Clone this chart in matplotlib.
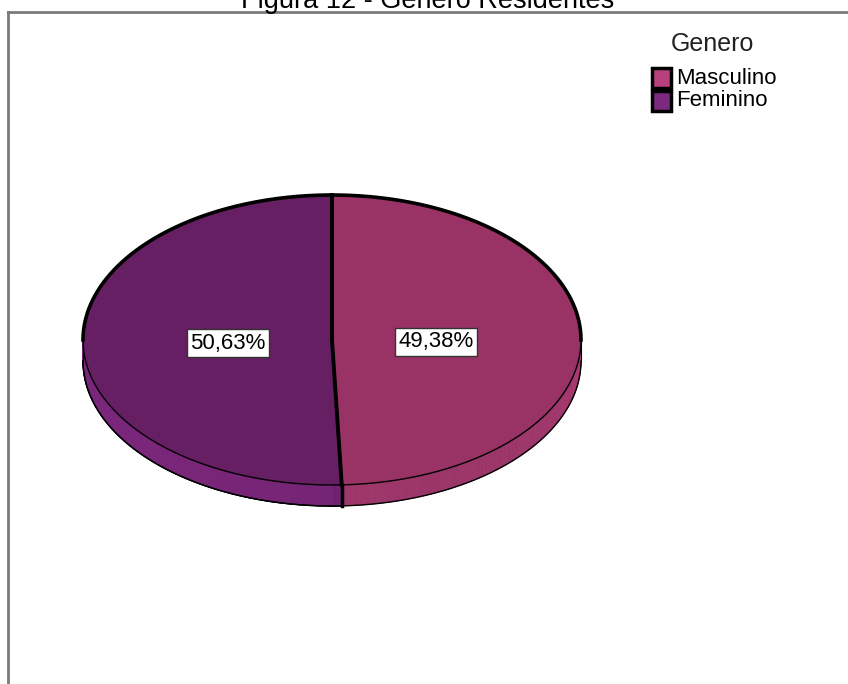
import numpy as np
import matplotlib
matplotlib.use("Agg")
import matplotlib.pyplot as plt
from matplotlib.patches import Polygon, Rectangle
from matplotlib.lines import Line2D
from matplotlib.colors import to_rgb

plt.rcParams['font.family'] = ['Liberation Sans Narrow', 'Liberation Sans', 'DejaVu Sans']

title = "Figura 12 - Genero Residentes"
legend_title = "Genero"
categories = ["Masculino", "Feminino"]
percentages = [49.38, 50.63]
labels = ["49,38%", "50,63%"]

top_colors = ["#993366", "#661f62"]
side_colors = ["#b03c76", "#7a267a"]
swatch_colors = ["#b8407f", "#7b2a80"]

W, H = 848, 684
fig = plt.figure(figsize=(W / 100, H / 100), dpi=100)
ax = fig.add_axes([0, 0, 1, 1])
ax.set_xlim(0, W)
ax.set_ylim(H, 0)
ax.axis("off")

# outer frame (top and left borders)
ax.add_line(Line2D([8, W], [12, 12], color="#7a7a7a", lw=2))
ax.add_line(Line2D([8, 8], [12, H], color="#7a7a7a", lw=2))
ax.text(428, 8, title, ha="center", va="baseline", fontsize=19.5, color="black")

# pie geometry
cx, cy = 332, 340
a, b = 249, 145
depth = 21

def pt(theta_deg, dy=0.0):
    t = np.radians(theta_deg)
    return cx + a * np.cos(t), cy - b * np.sin(t) + dy

# slice angles: start at the top, run clockwise
total = sum(percentages)
start = 90.0
spans = []
for p in percentages:
    sweep = p / total * 360.0
    spans.append((start - sweep, start))
    start -= sweep

# side wall (only the front half, angles -180..0, is visible)
for (t0, t1), col in zip(spans, side_colors):
    segs = []
    vis_lo, vis_hi = max(t0, -180), min(t1, 0)
    if vis_hi > vis_lo:
        segs.append((vis_lo, vis_hi))
    if t0 < -180:
        lo2, hi2 = max(t0 + 360, 180), min(t1 + 360, 360)
        if hi2 > lo2:
            segs.append((lo2 - 360, hi2 - 360))
    base = np.array(to_rgb(col))
    for s0, s1 in segs:
        steps = np.linspace(s0, s1, max(int((s1 - s0) * 2), 2))
        for k in range(len(steps) - 1):
            u0, u1 = steps[k], steps[k + 1]
            shade = 1.0 - 0.12 * (np.cos(np.radians(u0 + 60)) ** 2) * (1 if np.cos(np.radians(u0)) > 0 else 0.4)
            c = np.clip(base * shade, 0, 1)
            quad = [pt(u0), pt(u1), pt(u1, depth), pt(u0, depth)]
            ax.add_patch(Polygon(quad, closed=True, facecolor=c, edgecolor=c, lw=0.6))
        bx, by = zip(*[pt(u, depth) for u in np.linspace(s0, s1, 200)])
        ax.add_line(Line2D(bx, by, color="black", lw=1.0))
for th in (180, 0):
    x0, y0 = pt(th)
    x1, y1 = pt(th, depth)
    ax.add_line(Line2D([x0, x1], [y0, y1], color="black", lw=0.8))
bx0, by0 = pt(spans[0][0])
ax.add_line(Line2D([bx0, bx0], [by0, by0 + depth], color="black", lw=2.5))

# top faces
for (t0, t1), col in zip(spans, top_colors):
    th = np.linspace(t0, t1, 300)
    pts = [pt(t) for t in th] + [(cx, cy)]
    ax.add_patch(Polygon(pts, closed=True, facecolor=col, edgecolor="none"))

# top ellipse outline: heavy at the back, light at the front
xb, yb = zip(*[pt(t) for t in np.linspace(0, 180, 300)])
ax.add_line(Line2D(xb, yb, color="black", lw=2.6))
xf, yf = zip(*[pt(t) for t in np.linspace(-180, 0, 300)])
ax.add_line(Line2D(xf, yf, color="black", lw=1.0))

# radial dividers
for th in (90, spans[0][0]):
    x1, y1 = pt(th)
    ax.add_line(Line2D([cx, x1], [cy, y1], color="black", lw=2.8))

# percentage labels
label_pos = [(436, 342), (228, 343)]
for (lx, ly), txt in zip(label_pos, labels):
    ax.text(lx, ly, txt, ha="center", va="center", fontsize=16, color="black",
            bbox=dict(boxstyle="square,pad=0.16", facecolor="white", edgecolor="#333333", lw=1))

# legend
ax.text(712, 44, legend_title, ha="center", va="center", fontsize=18, color="#222222")
for i, (name, col) in enumerate(zip(categories, swatch_colors)):
    y = 78 + i * 23
    ax.add_patch(Rectangle((652, y - 10), 19, 20, facecolor=col, edgecolor="black", lw=2.5))
    ax.text(676, y, name, ha="left", va="center", fontsize=16, color="black")

fig.savefig("out.png", dpi=100)
